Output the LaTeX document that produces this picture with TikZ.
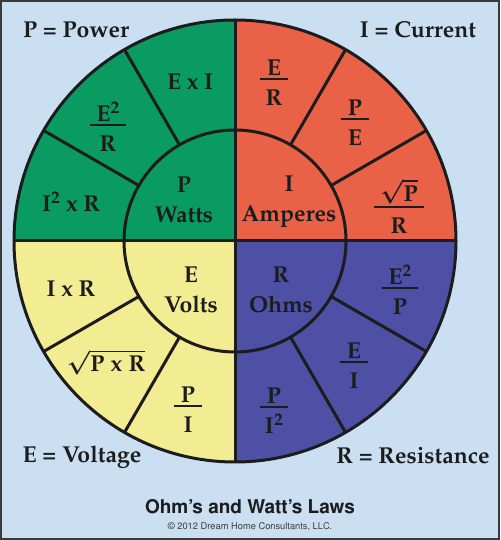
\documentclass[tikz,border=0pt]{standalone}
\usepackage[T1]{fontenc}
\usepackage{amsmath}
\usepackage{mathpazo}
\usepackage{helvet}
\usepackage{tikz}
\usepackage{xcolor}
\usetikzlibrary{calc}
\definecolor{paperblue}{HTML}{CADFF2}
\definecolor{framegray}{HTML}{3A3A3A}
\definecolor{inkdark}{HTML}{1C1C1C}
\definecolor{wattgreen}{HTML}{0A9B63}
\definecolor{ampred}{HTML}{E96248}
\definecolor{voltyellow}{HTML}{F2EC92}
\definecolor{ohmblue}{HTML}{4D50A5}
\definecolor{captiongray}{HTML}{3C3C3C}
\newcommand{\Rout}{221}
\newcommand{\Rin}{111}
% fraction with a heavy bar, full size letters
\newcommand{\frc}[2]{$\genfrac{}{}{1.8pt}{1}%
  {\textstyle\mkern5mu#1\mkern5mu}{\textstyle\rule{0pt}{24pt}#2}$}
\tikzset{
  % Wheel lines
  rim/.style={draw=inkdark, line width=3pt},
  % Texts in the wheel
  term/.style={font=\fontsize{23}{30}\selectfont\bfseries\boldmath,
    text=inkdark, inner sep=0pt, anchor=base},
  fracbox/.style={term, yshift=-5.75pt},
  unit/.style={font=\fontsize{23}{30}\selectfont\bfseries\boldmath,
    text=inkdark, inner sep=0pt, align=center},
  % Caption below
  lawtitle/.style={font=\sffamily\bfseries\fontsize{19}{22}\selectfont,
    text=inkdark, inner sep=0pt},
  credit/.style={font=\sffamily\fontsize{9.3}{11}\selectfont,
    text=captiongray, inner sep=0pt},
}
\begin{document}
\begin{tikzpicture}[x=1pt, y=1pt]
  \fill[paperblue] (0,0) rectangle (500,540);
  \draw[framegray, line width=2pt] (1,1) rectangle (499,539);
  \useasboundingbox (0,0) rectangle (500,540);

  \begin{scope}[shift={(235,299)}]
    \coordinate (ctr) at (0,0);
    % the four quadrants
    \foreach \ang/\col in {0/ampred, 90/wattgreen, 180/voltyellow, 270/ohmblue}
      \fill[\col] (ctr) -- (\ang:\Rout)
        arc[start angle=\ang, delta angle=90, radius=\Rout] -- cycle;
    % spokes of the outer ring
    \foreach \ang in {30,60,120,150,210,240,300,330}
      \draw[rim] (\ang:\Rin) -- (\ang:\Rout);
    \draw[rim] (0,\Rout) -- (0,-\Rout);
    \draw[rim] (-\Rout,0) -- (\Rout,0);
    \draw[rim] (ctr) circle[radius=\Rin];
    \draw[rim] (ctr) circle[radius=\Rout];
  \end{scope}

  % corner names
  \node[term] (pow) at (76,502.5) {P = Power};
  \node[term] (cur) at (418,502.5) {I = Current};
  \node[term] (volt) at (82,77) {E = Voltage};
  \node[term] (res) at (413,76) {R = Resistance};

  % inner ring
  \node[unit] (watts) at (184,340) {P\\Watts};
  \node[unit] (amps) at (289,338) {I\\Amperes};
  \node[unit] (volts) at (191,250) {E\\Volts};
  \node[unit] (ohms) at (281,250) {R\\Ohms};

  % power
  \node[term] (exi) at (190,450) {E x I};
  \node[fracbox] (esqr) at (108,415) {\frc{\mathbf{E}^2}{\mathbf{R}}};
  \node[term] (isqr) at (71,328) {I$^2$ x R};
  % current
  \node[fracbox] (eovr) at (274,461) {\frc{\mathbf{E}}{\mathbf{R}}};
  \node[fracbox] (pove) at (355,421) {\frc{\mathbf{P}}{\mathbf{E}}};
  \node[fracbox] (rtpr) at (399,333) {\frc{\sqrt{\mathbf{P}}}{\mathbf{R}}};
  % voltage
  \node[term] (ixr) at (71,243) {I x R};
  \node[term] (rtpxr) at (106,168) {$\sqrt{\mathbf{P\ x\ R}}$};
  \node[fracbox] (povi) at (188,134) {\frc{\mathbf{P}}{\mathbf{I}}};
  % resistance
  \node[fracbox] (esqp) at (400,252) {\frc{\mathbf{E}^2}{\mathbf{P}}};
  \node[fracbox] (eovi) at (354,178) {\frc{\mathbf{E}}{\mathbf{I}}};
  \node[fracbox] (povisq) at (274,133) {\frc{\mathbf{P}}{\mathbf{I}^2}};

  % caption
  \node[lawtitle] (title) at (250,33) {Ohm's and Watt's Laws};
  \node[credit] (copy) at (250,13.5)
    {\textcopyright{} 2012 Dream Home Consultants, LLC.};
\end{tikzpicture}
\end{document}
